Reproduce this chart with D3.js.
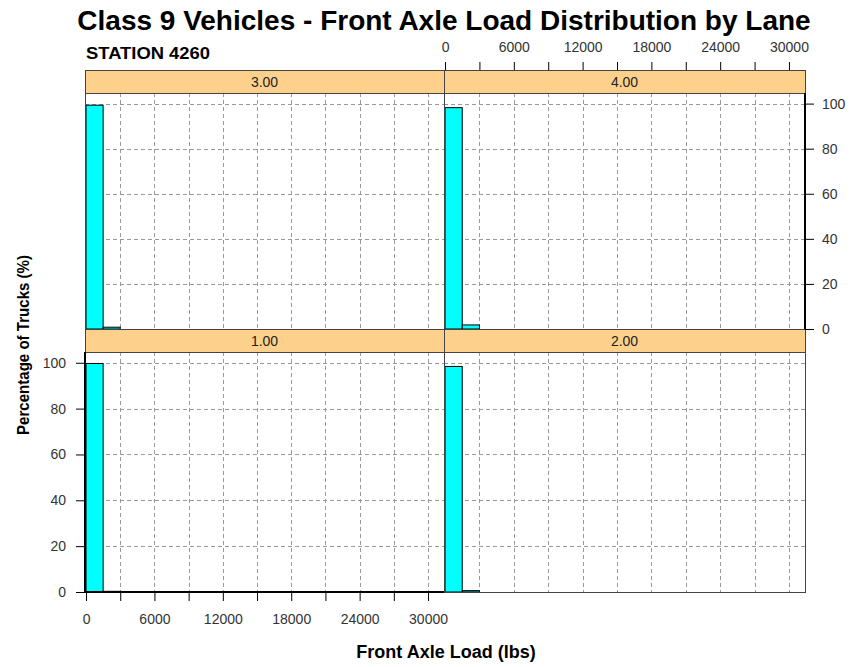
<!DOCTYPE html>
<html>
<head>
<meta charset="utf-8">
<script src="https://cdn.jsdelivr.net/npm/d3@7"></script>
<style>
  html, body { margin: 0; padding: 0; background: #fff; }
  svg { display: block; }
</style>
</head>
<body>
<svg id="chart" width="853" height="667"></svg>
<script>
// Histogram bins of front axle load (lbs), 1500 lb wide, starting at 0
const binStarts = d3.range(0, 31500, 1500);
// Percent of class 9 trucks per bin for each lane (remaining bins are zero)
const lane1 = [99.7, 0.3];
const lane2 = [98.4, 0.6];
const lane3 = [99.3, 0.8];
const lane4 = [98.2, 1.8];
const laneNames = ["1.00", "2.00", "3.00", "4.00"];
const laneValues = [lane1, lane2, lane3, lane4];
const xTicks = d3.range(0, 30001, 3000);
const xLabels = d3.range(0, 30001, 6000);
const yTicks = [0, 20, 40, 60, 80, 100];

const svg = d3.select("#chart");
const font = "'Liberation Sans', Arial, sans-serif";

// Panel grid: two columns, two rows (lanes 1,2 bottom; lanes 3,4 top)
const cols = [[85, 444], [444, 805]];
const rows = [{ strip: [70, 93], plot: [93, 329] }, { strip: [329, 352], plot: [352, 592] }];
const panels = [
  { lane: 2, col: 0, row: 0 },
  { lane: 3, col: 1, row: 0 },
  { lane: 0, col: 0, row: 1 },
  { lane: 1, col: 1, row: 1 }
];
const xDomain = [-90, 31400];
const yDomain = [0, 104.7];

panels.forEach(p => {
  const [x0, x1] = cols[p.col];
  const r = rows[p.row];
  const x = d3.scaleLinear().domain(xDomain).range([x0, x1]);
  const y = d3.scaleLinear().domain(yDomain).range([r.plot[1], r.plot[0]]);
  p.x = x; p.y = y;
  const g = svg.append("g");

  // dashed grid
  g.selectAll("line.vg").data(xTicks.filter(d => d > 0)).join("line")
    .attr("x1", d => Math.round(x(d)) + 0.5).attr("x2", d => Math.round(x(d)) + 0.5)
    .attr("y1", r.plot[0]).attr("y2", r.plot[1])
    .attr("stroke", "#9a9a9a").attr("stroke-dasharray", "4,3");
  g.selectAll("line.hg").data(yTicks.filter(d => d > 0)).join("line")
    .attr("y1", d => Math.round(y(d)) + 0.5).attr("y2", d => Math.round(y(d)) + 0.5)
    .attr("x1", x0).attr("x2", x1)
    .attr("stroke", "#9a9a9a").attr("stroke-dasharray", "4,3");

  // bars
  const vals = binStarts.map((b, i) => ({ b, v: laneValues[p.lane][i] || 0 }));
  g.selectAll("rect.bar").data(vals).join("rect")
    .attr("x", d => x(d.b))
    .attr("width", x(1500) - x(0))
    .attr("y", d => y(d.v))
    .attr("height", d => y(0) - y(d.v))
    .attr("fill", "#00ffff")
    .attr("stroke", "#000").attr("stroke-width", 1);

  // panel border
  g.append("rect").attr("x", x0 + 0.5).attr("y", r.plot[0] + 0.5)
    .attr("width", x1 - x0).attr("height", r.plot[1] - r.plot[0])
    .attr("fill", "none").attr("stroke", "#444");

  // strip
  g.append("rect").attr("x", x0 + 0.5).attr("y", r.strip[0] + 0.5)
    .attr("width", x1 - x0).attr("height", r.strip[1] - r.strip[0])
    .attr("fill", "#fdd18c").attr("stroke", "#444");
  g.append("text").attr("x", (x0 + x1) / 2).attr("y", (r.strip[0] + r.strip[1]) / 2 + 5)
    .attr("text-anchor", "middle").attr("font-family", font).attr("font-size", 14)
    .attr("fill", "#222").text(laneNames[p.lane]);
});

const fmt = d => (xLabels.includes(d) ? d3.format("d")(d) : "");

function styleAxis(a) {
  a.select(".domain").remove();
  a.selectAll(".tick line").attr("stroke", "#000");
  a.selectAll(".tick text").attr("font-family", font).attr("font-size", 14).attr("fill", "#333");
}

// bottom axis (lane 1 panel)
const pBL = panels[2];
svg.append("g").attr("transform", `translate(0,${rows[1].plot[1]})`)
  .call(d3.axisBottom(pBL.x).tickValues(xTicks).tickFormat(fmt).tickSize(9).tickPadding(13))
  .call(styleAxis);
// left axis (lane 1 panel)
svg.append("g").attr("transform", `translate(${cols[0][0]},0)`)
  .call(d3.axisLeft(pBL.y).tickValues(yTicks).tickSize(9).tickPadding(10))
  .call(styleAxis);
// top axis (lane 4 panel)
const pTR = panels[1];
svg.append("g").attr("transform", `translate(0,${rows[0].strip[0]})`)
  .call(d3.axisTop(pTR.x).tickValues(xTicks).tickFormat(fmt).tickSize(8).tickPadding(10))
  .call(styleAxis);
// right axis (lane 4 panel)
svg.append("g").attr("transform", `translate(${cols[1][1]},0)`)
  .call(d3.axisRight(pTR.y).tickValues(yTicks).tickSize(9).tickPadding(8))
  .call(styleAxis);

// heavy axis lines
const axisLines = [
  [cols[0][0], rows[1].plot[0], cols[0][0], rows[1].plot[1]],
  [cols[0][0], rows[1].plot[1], cols[0][1], rows[1].plot[1]],
  [cols[1][1], rows[0].plot[0], cols[1][1], rows[0].plot[1]]
];
svg.selectAll("line.ax").data(axisLines).join("line")
  .attr("x1", d => d[0]).attr("y1", d => d[1]).attr("x2", d => d[2]).attr("y2", d => d[3])
  .attr("stroke", "#000").attr("stroke-width", 2);

// titles
svg.append("text").attr("x", 444).attr("y", 30).attr("text-anchor", "middle")
  .attr("font-family", font).attr("font-weight", "bold").attr("font-size", 28)
  .attr("fill", "#000").text("Class 9 Vehicles - Front Axle Load Distribution by Lane");
svg.append("text").attr("x", 86).attr("y", 59)
  .attr("font-family", font).attr("font-weight", "bold").attr("font-size", 17)
  .attr("textLength", 124).attr("lengthAdjust", "spacingAndGlyphs")
  .attr("fill", "#000").text("STATION 4260");
svg.append("text").attr("x", 446).attr("y", 658).attr("text-anchor", "middle")
  .attr("font-family", font).attr("font-weight", "bold").attr("font-size", 18)
  .attr("fill", "#000").text("Front Axle Load (lbs)");
svg.append("text").attr("transform", "translate(29,345) rotate(-90)").attr("text-anchor", "middle")
  .attr("font-family", font).attr("font-weight", "bold").attr("font-size", 17)
  .attr("textLength", 180).attr("lengthAdjust", "spacingAndGlyphs")
  .attr("fill", "#000").text("Percentage of Trucks (%)");
</script>
</body>
</html>
